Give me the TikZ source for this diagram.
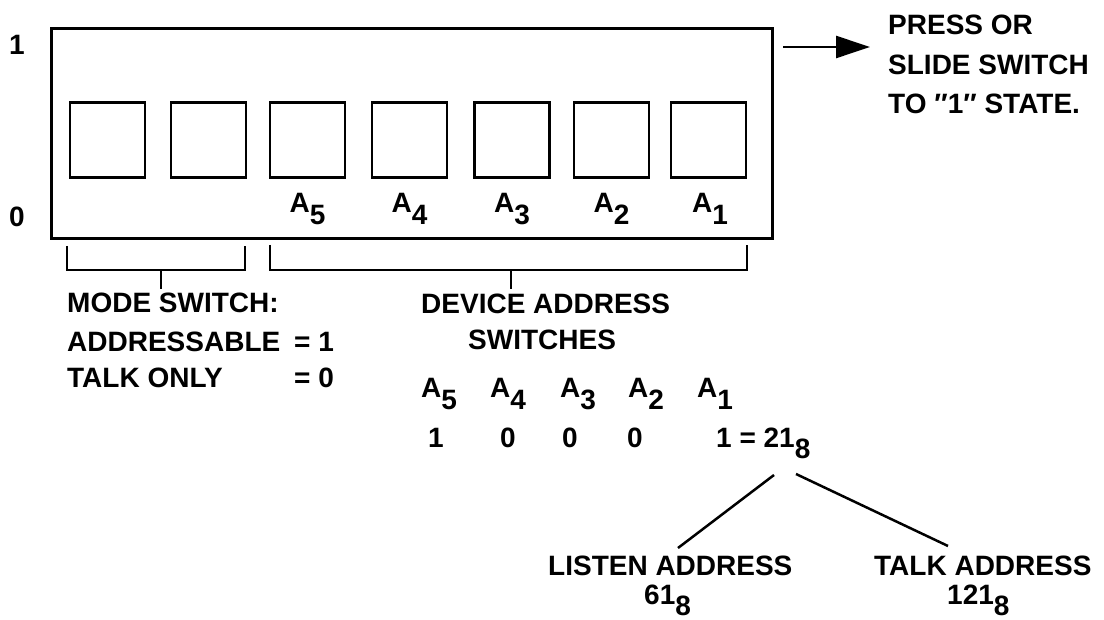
\documentclass[tikz,border=0pt]{standalone}
\usepackage{fontspec}
\setmainfont{Liberation Sans}
\usetikzlibrary{arrows.meta}
% full-size subscript, just set lower on the line
\newcommand\lowsub[1]{\raisebox{-0.4em}{#1}}
\begin{document}
\begin{tikzpicture}[x=1pt,y=-1pt,
  lbl/.style={inner sep=0pt,font=\fontsize{28}{28}\selectfont\bfseries},
  switchbox/.style={draw,line width=2.8pt,minimum width=75pt,minimum height=75pt,inner sep=0pt},
  wire/.style={line width=2.5pt}]
\useasboundingbox (0,0) rectangle (1104,620);

% switch panel
\node[draw,line width=2.8pt,anchor=north west,minimum width=721pt,minimum height=210pt,inner sep=0pt] (panel) at (50,27) {};
\node[lbl,anchor=base] (one) at (17,55) {1};
\node[lbl,anchor=base] (zero) at (17,227) {0};

% the seven switches
\node[switchbox] (s7) at (107.5,140) {};
\node[switchbox] (s6) at (208.5,140) {};
\node[switchbox] (s5) at (307.5,140) {};
\node[switchbox] (s4) at (409.5,140) {};
\node[switchbox] (s3) at (512,140) {};
\node[switchbox] (s2) at (611.5,140) {};
\node[switchbox] (s1) at (708.5,140) {};
\node[lbl,anchor=base] (la5) at (307.5,213) {A\lowsub{5}};
\node[lbl,anchor=base] (la4) at (409.5,213) {A\lowsub{4}};
\node[lbl,anchor=base] (la3) at (512,213) {A\lowsub{3}};
\node[lbl,anchor=base] (la2) at (611.5,213) {A\lowsub{2}};
\node[lbl,anchor=base] (la1) at (710,213) {A\lowsub{1}};

% pointer to the note
\coordinate (arr-from) at (783,47);
\coordinate (arr-to) at (870,47);
\draw[wire,-{Triangle[length=34pt,width=22pt]}] (arr-from) -- (arr-to);
\node[lbl,anchor=base west] (note1) at (888,35) {PRESS OR};
\node[lbl,anchor=base west] (note2) at (888,75) {SLIDE SWITCH};
\node[lbl,anchor=base west] (note3) at (888,114) {TO ″1″ STATE.};

% brackets under the panel
\draw[wire] (67,246) -- (67,270) -- (245,270) -- (245,246);
\draw[wire] (161,270) -- (161,289);
\draw[wire] (270,245) -- (270,270) -- (747,270) -- (747,245);
\draw[wire] (511,270) -- (511,289);

% mode switch legend
\node[lbl,anchor=base west] (mode) at (67,313) {MODE SWITCH:};
\node[lbl,anchor=base west] (addr) at (67,352) {ADDRESSABLE};
\node[lbl,anchor=base west] (addrv) at (294,352) {= 1};
\node[lbl,anchor=base west] (talkonly) at (67,388) {TALK ONLY};
\node[lbl,anchor=base west] (talkv) at (294,388) {= 0};

% device address legend
\node[lbl,anchor=base west] (dev1) at (421,314) {DEVICE ADDRESS};
\node[lbl,anchor=base west] (dev2) at (468,350) {SWITCHES};
\node[lbl,anchor=base west] (ha5) at (421,398) {A\lowsub{5}};
\node[lbl,anchor=base west] (ha4) at (490,398) {A\lowsub{4}};
\node[lbl,anchor=base west] (ha3) at (560,398) {A\lowsub{3}};
\node[lbl,anchor=base west] (ha2) at (628,398) {A\lowsub{2}};
\node[lbl,anchor=base west] (ha1) at (697,398) {A\lowsub{1}};
\node[lbl,anchor=base] (b5) at (436,447) {1};
\node[lbl,anchor=base] (b4) at (508,447) {0};
\node[lbl,anchor=base] (b3) at (570,447) {0};
\node[lbl,anchor=base] (b2) at (635,447) {0};
\node[lbl,anchor=base west] (oct) at (716,447) {1 = 21\lowsub{8}};

% split into listen and talk addresses
\coordinate (oct-l) at (774,475);
\coordinate (oct-r) at (796,474);
\coordinate (listen-top) at (678,548);
\coordinate (talk-top) at (948,546);
\draw[wire] (oct-l) -- (listen-top);
\draw[wire] (oct-r) -- (talk-top);
\node[lbl,anchor=base west] (listen) at (548,575) {LISTEN ADDRESS};
\node[lbl,anchor=base west] (listenv) at (644,604) {61\lowsub{8}};
\node[lbl,anchor=base west] (talk) at (874,575) {TALK ADDRESS};
\node[lbl,anchor=base west] (talkval) at (947,604) {121\lowsub{8}};
\end{tikzpicture}
\end{document}
